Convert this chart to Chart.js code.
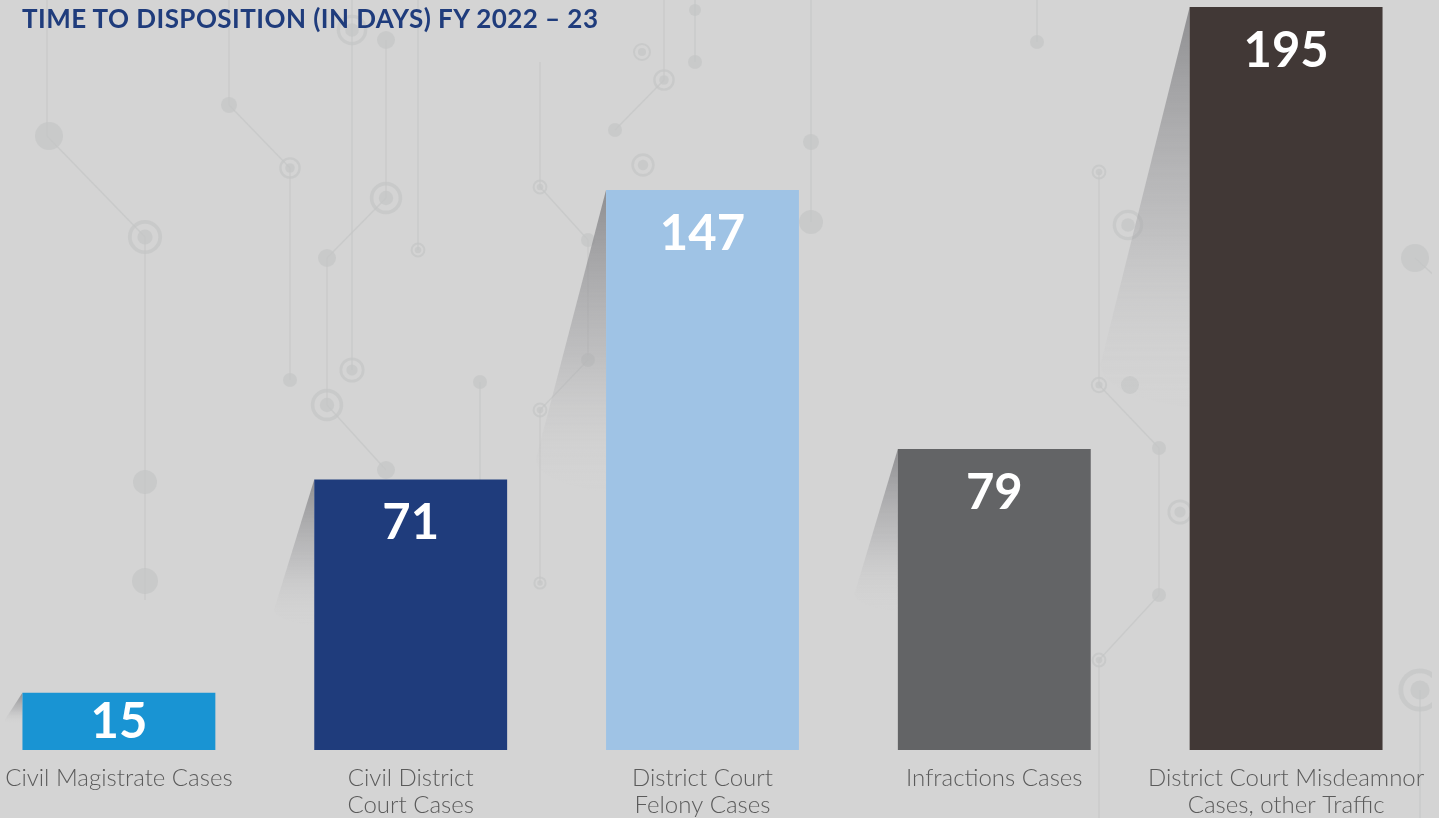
<!DOCTYPE html>
<html lang="en">
<head>
    <meta charset="UTF-8">
    <title>Time to Disposition FY 2022-23</title>
    <style>
        html, body {
            margin: 0;
            padding: 0;
            width: 1439px;
            height: 818px;
            overflow: hidden;
            background-color: #d4d4d4;
            font-family: Lato, "Open Sans", sans-serif;
        }
        .title {
            position: absolute;
            left: 22px;
            top: 3px;
            font-size: 26px;
            font-weight: bold;
            letter-spacing: 0.45px;
            line-height: 30px;
            color: #1f3c7c;
            z-index: 2;
        }
        #chartBox {
            position: absolute;
            left: -27px;
            top: 0;
        }
    </style>
</head>
<body>
    <div class="title">TIME TO DISPOSITION (IN DAYS) FY 2022 – 23</div>
    <canvas id="chartBox" width="1459" height="818"></canvas>

    <script src="https://cdn.jsdelivr.net/npm/chart.js"></script>
    <script>
        // categories (multi-line labels as arrays)
        const categories = [
            'Civil Magistrate Cases',
            ['Civil District', 'Court Cases'],
            ['District Court', 'Felony Cases'],
            'Infractions Cases',
            ['District Court Misdeamnor', 'Cases, other Traffic']
        ];

        // days to disposition
        const days = [15, 71, 147, 79, 195];

        const barColors = ['#1994d3', '#1f3c7c', '#9fc3e5', '#636466', '#413836'];

        // faint "circuit board" artwork behind the chart (page pixels, purely decorative)
        const deco = {
            lines: [
                [[47, 0], [47, 136], [145, 237], [145, 600]],
                [[229, 0], [229, 105], [290, 168], [290, 380]],
                [[352, 0], [352, 370]],
                [[386, 40], [386, 198], [327, 258], [327, 405], [386, 470]],
                [[418, 0], [418, 250]],
                [[540, 62], [540, 187], [588, 240], [588, 360], [540, 410], [540, 583]],
                [[480, 382], [480, 600]],
                [[615, 130], [664, 80], [664, 0]],
                [[695, 0], [695, 62]],
                [[811, 0], [811, 222]],
                [[1099, 172], [1099, 385], [1159, 448], [1159, 595], [1099, 660], [1099, 818]],
                [[1415, 258], [1439, 280]],
                [[1420, 690], [1420, 818]],
                [[1037, 0], [1037, 42]]
            ],
            dots: [
                [49, 136, 14], [145, 482, 12], [145, 581, 13], [229, 105, 8], [290, 380, 7],
                [386, 40, 9], [327, 258, 9], [386, 470, 9], [588, 240, 7], [588, 360, 7],
                [480, 382, 7], [615, 130, 7], [695, 62, 7], [695, 10, 6], [811, 142, 8],
                [811, 222, 12], [1037, 42, 7], [1159, 448, 7], [1159, 595, 7], [1130, 385, 9],
                [1415, 258, 14]
            ],
            rings: [
                [145, 237, 19], [290, 168, 12], [352, 30, 17], [352, 370, 14], [386, 198, 18],
                [327, 405, 18], [418, 250, 8], [540, 187, 8], [540, 410, 8], [540, 583, 7],
                [642, 52, 10], [664, 80, 12], [643, 165, 13], [1099, 172, 8], [1099, 385, 9],
                [1128, 225, 17], [1099, 660, 8], [1180, 512, 14], [1420, 690, 24]
            ]
        };

        const backdropPlugin = {
            id: 'backdrop',
            beforeDraw(chart) {
                const ctx = chart.ctx;
                const ox = 27; // canvas sits 27px left of the page
                ctx.save();
                ctx.strokeStyle = 'rgba(196,198,198,0.7)';
                ctx.fillStyle = 'rgba(196,198,198,0.7)';
                ctx.lineWidth = 1.5;
                deco.lines.forEach(function(pts) {
                    ctx.beginPath();
                    pts.forEach(function(p, i) {
                        if (i === 0) ctx.moveTo(p[0] + ox, p[1]);
                        else ctx.lineTo(p[0] + ox, p[1]);
                    });
                    ctx.stroke();
                });
                deco.dots.forEach(function(d) {
                    ctx.beginPath();
                    ctx.arc(d[0] + ox, d[1], d[2], 0, Math.PI * 2);
                    ctx.fill();
                });
                deco.rings.forEach(function(r) {
                    ctx.beginPath();
                    ctx.lineWidth = Math.max(2, r[2] * 0.2);
                    ctx.arc(r[0] + ox, r[1], r[2] * 0.8, 0, Math.PI * 2);
                    ctx.stroke();
                    ctx.beginPath();
                    ctx.arc(r[0] + ox, r[1], r[2] * 0.4, 0, Math.PI * 2);
                    ctx.fill();
                });
                ctx.restore();
            }
        };

        // grey slanted shadow on the left of each bar
        const shadowPlugin = {
            id: 'barShadow',
            beforeDatasetsDraw(chart) {
                const ctx = chart.ctx;
                const meta = chart.getDatasetMeta(0);
                meta.data.forEach(function(bar) {
                    const left = bar.x - bar.width / 2;
                    const h = bar.base - bar.y;
                    const dx = 12 + 0.1035 * h;
                    const dy = 0.48 * h;
                    const g = ctx.createLinearGradient(0, bar.y, 0, bar.y + dy + 0.06 * h);
                    g.addColorStop(0, 'rgba(125,125,128,0.8)');
                    g.addColorStop(0.55, 'rgba(160,160,163,0.4)');
                    g.addColorStop(1, 'rgba(212,212,212,0)');
                    ctx.save();
                    ctx.beginPath();
                    ctx.moveTo(left, bar.y);
                    ctx.lineTo(left - dx, bar.y + dy);
                    ctx.quadraticCurveTo(left - dx, bar.y + dy + 0.04 * h, left, bar.y + dy + 0.06 * h);
                    ctx.closePath();
                    ctx.fillStyle = g;
                    ctx.fill();
                    ctx.restore();
                });
            }
        };

        // white value on top of each bar
        const valuePlugin = {
            id: 'barValues',
            afterDatasetsDraw(chart) {
                const ctx = chart.ctx;
                const meta = chart.getDatasetMeta(0);
                ctx.save();
                ctx.font = 'bold 49px Lato, "Open Sans", sans-serif';
                ctx.fillStyle = '#ffffff';
                ctx.textAlign = 'center';
                ctx.textBaseline = 'alphabetic';
                meta.data.forEach(function(bar, i) {
                    const mid = (bar.y + bar.base) / 2 + 17;
                    const y = Math.min(bar.y + 60, mid);
                    ctx.fillText(String(days[i]), bar.x, y);
                });
                ctx.restore();
            }
        };

        window.onload = function() {
            const ctx = document.getElementById('chartBox').getContext('2d');
            new Chart(ctx, {
                type: 'bar',
                data: {
                    labels: categories,
                    datasets: [{
                        data: days,
                        backgroundColor: barColors,
                        borderWidth: 0,
                        categoryPercentage: 1,
                        barPercentage: 0.661
                    }]
                },
                options: {
                    responsive: false,
                    animation: false,
                    layout: { padding: { top: 7, left: 0, right: 0, bottom: 0 } },
                    plugins: {
                        legend: { display: false },
                        tooltip: { enabled: false }
                    },
                    scales: {
                        x: {
                            grid: { display: false, drawTicks: false },
                            border: { display: false },
                            ticks: {
                                color: '#5b5b5b',
                                padding: 15,
                                maxRotation: 0,
                                autoSkip: false,
                                font: { family: 'Lato, "Open Sans", sans-serif', size: 24, weight: '300', lineHeight: 1.125 }
                            },
                            afterFit: function(scale) {
                                // fixed axis band; labels may run past the plot edges
                                scale.height = 68;
                                scale.paddingLeft = 0;
                                scale.paddingRight = 0;
                            }
                        },
                        y: {
                            display: false,
                            min: 0,
                            max: 195
                        }
                    }
                },
                plugins: [backdropPlugin, shadowPlugin, valuePlugin]
            });
        };
    </script>
</body>
</html>
